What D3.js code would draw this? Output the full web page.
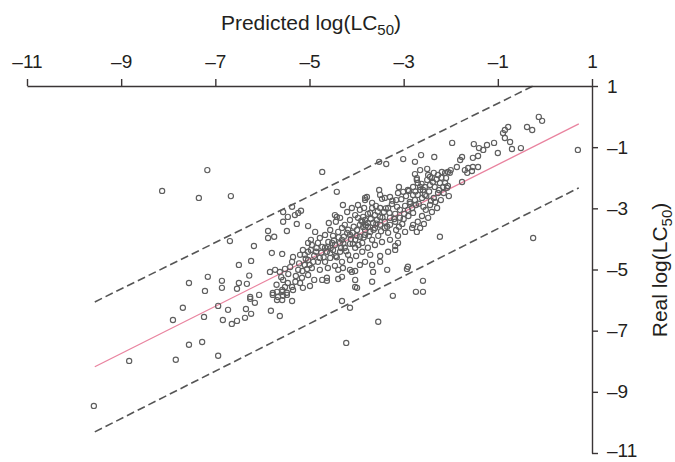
<!DOCTYPE html>
<html><head><meta charset="utf-8">
<script src="https://cdn.jsdelivr.net/npm/d3@7"></script>
<style>
html,body{margin:0;padding:0;background:#fff;}
svg{display:block;font-family:"Liberation Sans",Arial,Helvetica,sans-serif;}
</style></head>
<body>
<svg id="chart" width="675" height="462"></svg>
<script>
const xTicks = [-11, -9, -7, -5, -3, -1, 1];
const yTicks = [1, -1, -3, -5, -7, -9, -11];
const xDomain = [-11, 1];
const yDomain = [1, -11];

// regression line and ±2 bounds (predicted, real)
const fitLine = [[-9.56, -8.18], [0.72, -0.24]];
const upperLine = [[-9.56, -6.06], [-0.25, 1.0]];
const lowerLine = [[-9.56, -10.31], [0.72, -2.33]];

// [predicted, real]
const points = [
[-7.17,-1.75],[-8.13,-2.43],[-7.35,-2.66],[-6.67,-2.6],[-6.69,-4.07],[-6.18,-4.23],[-6.24,-4.72],[-6.5,-4.85],[-6.28,-5.2],[-7.16,-5.24],
[-7.56,-5.44],[-6.86,-5.37],[-6.5,-5.44],[-6.33,-5.47],[-7.22,-5.7],[-6.86,-5.6],[-6.54,-5.63],[-6.26,-5.9],[-6.07,-5.83],
[-7.69,-6.25],[-7.9,-6.65],[-7.24,-6.55],[-6.94,-6.19],[-6.73,-6.32],[-6.84,-6.65],[-6.65,-6.78],[-6.54,-6.68],[-6.37,-6.58],[-6.35,-6.29],
[-6.24,-6.45],[-6.26,-5.96],[-6.16,-6.09],[-7.56,-7.46],[-7.28,-7.37],[-8.83,-7.99],[-7.84,-7.95],[-6.94,-7.82],[-9.58,-9.46],
[-5.78,-5.77],[-5.69,-6.0],[-5.58,-6.0],[-5.48,-5.83],[-5.37,-6.03],[-5.58,-5.73],[-5.82,-6.35],[-5.63,-6.52],[-5.14,-5.6],
[-4.63,-5.37],[-4.03,-5.57],[-4.31,-6.03],[-4.14,-6.25],[-3.54,-6.71],[-4.22,-7.4],[-3.23,-5.86],[-2.74,-5.73],[-2.59,-5.73],[-2.59,-5.37],
[-3.67,-5.4],[-4.03,-5.05],[-3.65,-5.08],[-3.35,-5.01],[-2.91,-4.91],[-0.25,-3.97],[0.7,-1.09],
[-4.73,-1.81],[-4.42,-2.46],[-4.46,-3.22],[-4.42,-3.28],[-4.59,-3.48],[-5.03,-3.58],[-5.27,-3.51],[-5.48,-3.74],[-5.88,-3.74],[-5.75,-3.93],
[-5.88,-3.97],[-5.56,-3.12],[-5.46,-3.28],[-5.31,-3.22],[-5.37,-2.95],[-5.24,-3.15],[-5.18,-3.08],[-5.56,-3.44],[-4.97,-4.03],[-5.03,-4.13],
[-5.8,-4.46],[-5.58,-4.49],[-5.35,-4.59],[-4.29,-2.89],[-3.82,-2.73],[-3.78,-2.63],
[-0.13,-0.01],[-0.06,-0.14],[-0.38,-0.34],[-0.27,-0.44],[-0.85,-0.44],[-0.78,-0.34],[-0.89,-0.54],[-0.85,-0.7],[-0.74,-0.83],[-0.7,-1.06],
[-0.51,-1.03],[-1.08,-0.86],[-1.23,-0.93],[-1.51,-0.9],[-1.31,-1.09],[-1.4,-1.03],[-1.42,-1.29],[-1.0,-1.19],[-1.53,-1.35],[-1.53,-1.65],
[-1.42,-1.65],[-1.55,-1.78],[-1.97,-0.86],[-2.35,-1.32],[-2.63,-1.26],[-2.76,-1.48],[-3.01,-1.39],[-3.37,-1.55],[-3.52,-1.48],[-1.76,-1.32],
[-1.8,-1.42],[-1.87,-1.65],[-1.7,-1.75],[-1.63,-1.68],[-1.65,-1.84],[-2.19,-1.81],[-2.12,-1.84],[-2.06,-1.81],[-2.0,-1.75],[-1.76,-2.14],
[-2.23,-2.17],[-2.12,-2.17],[-2.06,-2.27],[-2.08,-2.33],[-2.04,-2.6],[-2.33,-2.79],[-2.8,-3.54],[-2.72,-3.77],[-2.23,-3.93],[-3.18,-4.23],
[-3.12,-4.13],[-3.5,-4.56],[-4.08,-4.16],[-2.93,-4.98],
[-2.50,-1.71],[-2.48,-1.91],[-2.40,-2.01],[-2.50,-2.07],[-2.38,-2.14],[-2.44,-2.24],[-2.55,-2.30],[-2.65,-2.40],[-2.72,-2.07],[-2.65,-1.75],
[-2.76,-1.88],[-3.10,-2.30],[-2.89,-2.43],[-2.80,-2.56],[-2.70,-2.56],[-3.52,-2.40],[-3.50,-2.56],[-3.40,-2.66],[-3.29,-2.63],[-3.82,-2.66],
[-3.86,-3.28],[-3.71,-3.15],[-2.02,-1.84],[-2.10,-2.01],[-2.16,-2.30],[-2.27,-1.91],[-2.36,-1.84],[-2.44,-1.97],[-2.59,-2.40],[-2.55,-2.56],
[-2.61,-2.66],[-2.72,-2.01],[-2.70,-2.17],[-2.65,-2.30],[-2.80,-2.30],[-2.91,-2.40],[-3.01,-2.46],[-3.12,-2.50],[-3.46,-2.69],[-3.67,-2.82],
[-3.61,-3.22],[-3.50,-3.28],[-3.57,-3.38],[-3.65,-3.48],[-3.76,-3.61],[-3.82,-3.71],
[-3.97,-3.31],[-3.88,-3.44],[-3.82,-3.38],[-3.76,-3.48],[-3.86,-3.61],[-3.93,-3.54],[-3.99,-3.71],[-4.08,-3.80],[-4.14,-3.87],[-4.20,-3.80],
[-4.27,-3.93],[-4.31,-4.03],[-4.35,-4.13],[-4.82,-4.13],[-4.73,-4.26],[-4.67,-4.29],[-4.61,-4.26],[-4.52,-4.13],[-4.46,-4.20],[-4.50,-4.36],
[-4.56,-4.46],[-4.63,-4.42],[-5.14,-4.36],[-5.10,-4.52],[-5.03,-4.42],[-4.97,-4.36],[-5.20,-4.52],[-5.37,-4.75],[-5.84,-5.08],[-5.73,-5.01],
[-5.63,-5.08],[-5.52,-4.98],[-5.41,-4.92],[-5.56,-5.34],[-5.46,-5.44],[-5.37,-5.57],[-5.52,-5.57],[-5.58,-5.67],[-5.69,-5.73],[-5.78,-5.83],
[-5.67,-5.90],[-5.56,-5.86],[-5.48,-5.76],[-5.35,-5.67],[-4.73,-5.34],[-4.63,-5.27],[-4.39,-5.31],[-4.31,-5.24],[-4.39,-5.01],[-4.29,-4.95],
[-4.14,-5.01],[-4.03,-5.34],[-3.99,-5.60],
[-4.25,-3.54],[-4.14,-3.38],[-4.03,-3.22],[-3.93,-3.05],[-4.10,-2.99],[-3.97,-2.89],[-4.20,-3.12],[-4.35,-3.31],[-4.44,-3.44],[-4.31,-3.64],
[-4.39,-3.77],[-4.50,-3.90],[-4.56,-3.71],[-4.67,-3.87],[-4.78,-3.97],[-4.88,-3.77],[-4.95,-4.20],[-4.86,-4.42],[-4.78,-4.62],[-4.67,-4.75],
[-4.56,-4.62],[-4.44,-4.56],[-4.35,-4.42],[-4.25,-4.29],[-4.14,-4.16],[-4.03,-4.03],[-3.93,-3.93],[-3.82,-3.87],[-3.71,-3.77],[-3.61,-3.64],
[-3.50,-3.54],[-3.40,-3.44],[-3.29,-3.31],[-3.18,-3.18],[-3.08,-3.05],[-2.97,-2.92],[-2.87,-2.79],[-2.76,-2.73],[-3.33,-2.99],[-3.25,-2.86],
[-3.16,-2.73],[-3.42,-3.12],[-3.50,-2.99],[-3.59,-2.92],[-3.67,-2.99],[-3.76,-3.18],[-3.84,-2.99],[-3.40,-3.64],[-3.29,-3.54],[-3.18,-3.44],
[-3.08,-3.31],[-2.99,-3.18],[-2.91,-3.05],[-2.82,-2.99],[-2.74,-2.89],[-3.03,-3.51],[-3.16,-3.71],[-3.33,-3.80],[-3.54,-3.90],[-3.67,-4.03],
[-3.88,-4.13],[-4.03,-4.29],[-4.18,-4.52],[-4.31,-4.75],[-4.46,-4.88],[-4.61,-4.95],[-4.78,-5.01],[-4.95,-4.95],[-5.10,-4.85],[-5.24,-5.01],
[-5.29,-5.21],[-5.16,-5.27],[-5.03,-5.18],[-4.90,-5.34],[-4.99,-5.54],[-5.20,-5.44],[-4.82,-4.75],[-5.03,-4.69],[-4.14,-4.69],[-4.01,-4.56],
[-3.88,-4.42],[-3.76,-4.29],[-3.61,-4.20],[-3.46,-4.10],[-3.29,-4.03],[-3.12,-3.90],[-2.97,-3.77],[-2.82,-3.64],[-2.70,-3.44],[-2.61,-3.25],
[-2.53,-3.05],[-2.44,-2.89],[-2.36,-2.66],[-2.27,-2.50],[-2.21,-2.73],[-2.29,-2.99],[-2.40,-3.12],[-2.48,-3.31],[-2.57,-3.51],[-2.65,-3.64],
[-3.18,-4.36],[-3.33,-4.42],[-3.71,-4.52],[-3.93,-4.85],[-4.10,-5.08],[-3.82,-4.75],[-3.67,-4.85],[-3.50,-4.75],
[-4.9,-4.55],[-4.85,-4.3],[-4.75,-4.45],[-4.7,-4.6],[-4.6,-4.1],[-4.55,-4.3],[-4.48,-4.05],[-4.42,-4.6],[-4.38,-3.95],[-4.33,-4.3],
[-4.28,-4.15],[-4.22,-4.4],[-4.18,-3.7],[-4.12,-4.0],[-4.06,-3.6],[-4.0,-3.9],[-3.96,-4.2],[-3.9,-3.4],[-3.85,-3.95],[-3.8,-3.55],
[-3.74,-3.9],[-3.7,-3.35],[-3.64,-3.7],[-3.58,-3.5],[-3.55,-3.1],[-3.48,-3.75],[-3.45,-3.3],[-3.38,-3.0],[-3.35,-3.6],[-3.3,-3.15],
[-3.24,-2.75],[-3.2,-3.35],[-3.14,-2.95],[-3.1,-3.6],[-3.05,-2.7],[-3.0,-3.35],[-2.95,-2.6],[-2.9,-3.25],[-2.86,-2.85],[-2.8,-3.15],
[-2.75,-2.45],[-2.68,-2.85],[-2.62,-2.2],[-2.58,-2.95],[-2.52,-2.6],[-2.46,-2.45],[-2.42,-2.75],[-2.34,-2.3],[-2.3,-2.05],[-2.25,-2.4],
[-2.2,-2.0],[-2.15,-2.5],[-5.0,-4.85],[-5.08,-4.65],[-5.15,-5.05],[-5.22,-4.8],[-5.3,-5.4],[-5.45,-5.15],[-5.6,-5.25],[-5.7,-5.5],
[-5.05,-4.98],[-4.92,-4.75]
];

const svg = d3.select("#chart");
const x = d3.scaleLinear().domain(xDomain).range([27, 592]);
const y = d3.scaleLinear().domain(yDomain).range([86, 453]);
const fmt = d => d < 0 ? "\u2013" + Math.abs(d) : String(d);
const textColor = "#231f20";
const font = "'Liberation Sans',Arial,Helvetica,sans-serif";

// lines
const line = d3.line().x(d => x(d[0])).y(d => y(d[1]));
svg.append("path").datum(upperLine).attr("d", line)
  .attr("fill", "none").attr("stroke", "#555").attr("stroke-width", 1.6).attr("stroke-dasharray", "8,4");
svg.append("path").datum(lowerLine).attr("d", line)
  .attr("fill", "none").attr("stroke", "#555").attr("stroke-width", 1.6).attr("stroke-dasharray", "8,4");
svg.append("path").datum(fitLine).attr("d", line)
  .attr("fill", "none").attr("stroke", "#e9839f").attr("stroke-width", 1.3);

// points
svg.append("g").selectAll("circle").data(points).join("circle")
  .attr("cx", d => x(d[0])).attr("cy", d => y(d[1])).attr("r", 2.6)
  .attr("fill", "none").attr("stroke", "#5e5e5e").attr("stroke-width", 1.15);

// axes
const xAxis = d3.axisTop(x).tickValues(xTicks).tickFormat(fmt).tickSize(7).tickSizeOuter(0).tickPadding(11);
const gx = svg.append("g").attr("transform", "translate(0,86)").call(xAxis);
const yAxis = d3.axisRight(y).tickValues(yTicks).tickFormat(fmt).tickSize(6).tickSizeOuter(0).tickPadding(9);
const gy = svg.append("g").attr("transform", "translate(592,0)").call(yAxis);
[gx, gy].forEach(g => {
  g.select(".domain").attr("stroke", "#3a3536").attr("stroke-width", 1.4);
  g.selectAll(".tick line").attr("stroke", "#3a3536").attr("stroke-width", 1.4);
  g.selectAll(".tick text").attr("fill", textColor).style("font-size", "19px").style("font-family", font);
});
// keep the lowest label inside the picture
gy.selectAll(".tick text").filter(d => d === yTicks[yTicks.length - 1]).attr("dy", "0.2em");

// titles
const xt = svg.append("text").attr("x", 311).attr("y", 30).attr("text-anchor", "middle")
  .attr("fill", textColor).style("font-size", "21px").style("font-family", font);
xt.append("tspan").text("Predicted log(LC");
xt.append("tspan").attr("dy", 5).style("font-size", "15px").text("50");
xt.append("tspan").attr("dy", -5).text(")");

const yt = svg.append("text").attr("transform", "translate(667,270) rotate(-90)").attr("text-anchor", "middle")
  .attr("fill", textColor).style("font-size", "21px").style("font-family", font);
yt.append("tspan").text("Real log(LC");
yt.append("tspan").attr("dy", 5).style("font-size", "15px").text("50");
yt.append("tspan").attr("dy", -5).text(")");
</script>
</body></html>
